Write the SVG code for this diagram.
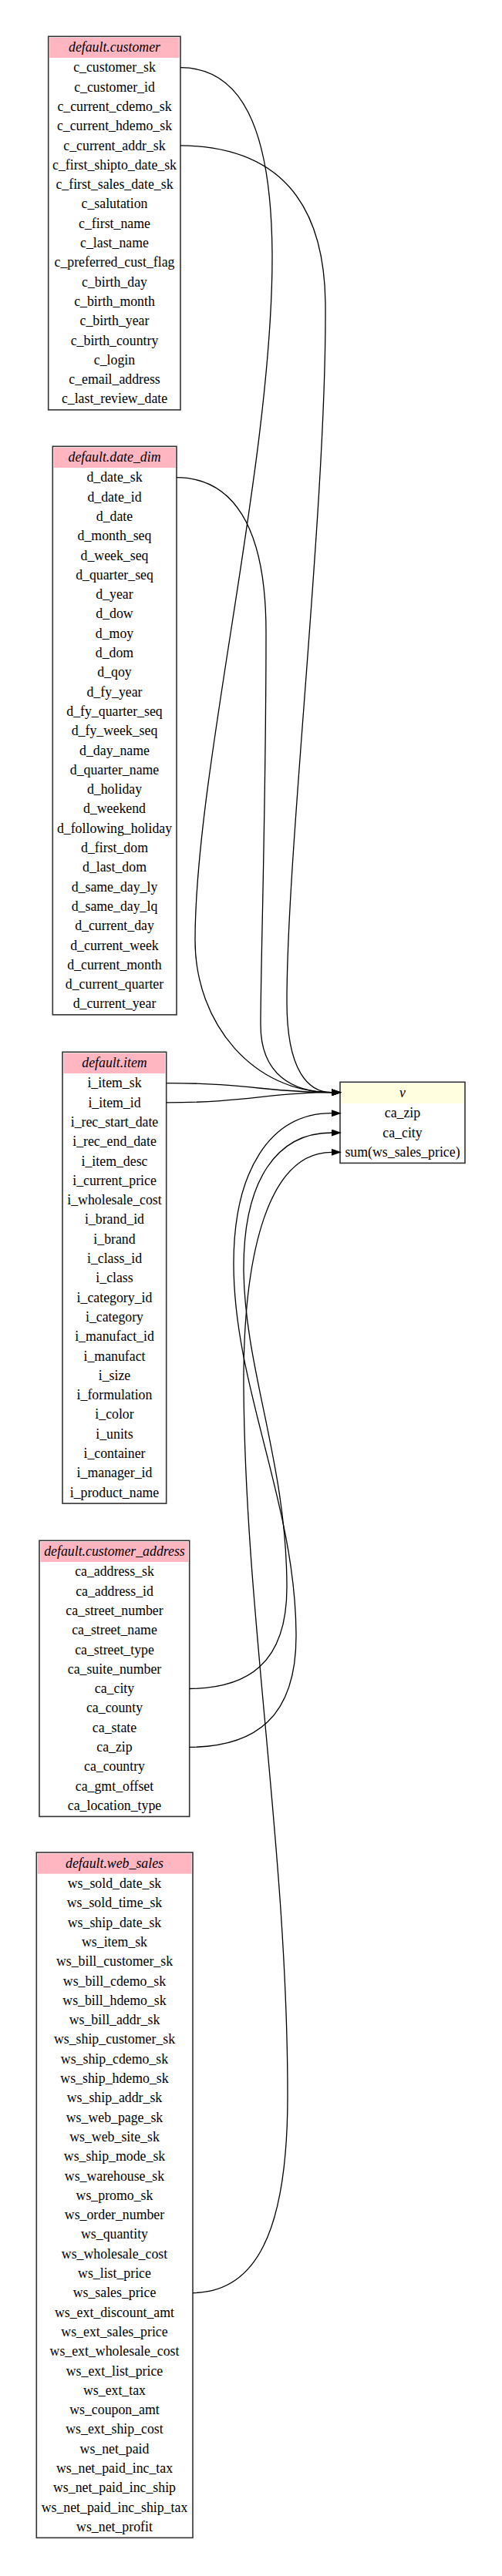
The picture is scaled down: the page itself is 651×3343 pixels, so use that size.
<svg xmlns="http://www.w3.org/2000/svg" width="651" height="3343" viewBox="0 0 651 3343">
<style>
.box{fill:#fff;stroke:#333;stroke-width:1.6}
.hd{fill:#ffb6c1}
.hdv{fill:#ffffe0}
text{font-family:"Liberation Serif","Times New Roman",serif;font-size:17.8px;fill:#000;text-anchor:middle}
.ti{font-style:italic}
.e{fill:none;stroke:#000;stroke-width:1.3;marker-end:url(#ah)}
</style>
<defs>
<marker id="ah" viewBox="0 0 13 9" refX="0" refY="4.5" markerWidth="13" markerHeight="9" markerUnits="userSpaceOnUse" orient="auto">
<path d="M0,0 L13,4.5 L0,9 Z" fill="#000"/>
</marker>
</defs>
<rect width="651" height="3343" fill="#fff"/>

<g id="customer" transform="translate(0,47.3)">
<rect class="box" x="62.7" y="0" width="171.3" height="484.6"/>
<rect class="hd" x="64.2" y="1.5" width="168.3" height="26.2"/>
<text class="ti" x="148.5" y="19.5">default.customer</text>
<text x="148.5" y="46.05">c_customer_sk</text>
<text x="148.5" y="71.35">c_customer_id</text>
<text x="148.5" y="96.65">c_current_cdemo_sk</text>
<text x="148.5" y="121.95">c_current_hdemo_sk</text>
<text x="148.5" y="147.25">c_current_addr_sk</text>
<text x="148.5" y="172.55">c_first_shipto_date_sk</text>
<text x="148.5" y="197.85">c_first_sales_date_sk</text>
<text x="148.5" y="223.15">c_salutation</text>
<text x="148.5" y="248.45">c_first_name</text>
<text x="148.5" y="273.75">c_last_name</text>
<text x="148.5" y="299.05">c_preferred_cust_flag</text>
<text x="148.5" y="324.35">c_birth_day</text>
<text x="148.5" y="349.65">c_birth_month</text>
<text x="148.5" y="374.95">c_birth_year</text>
<text x="148.5" y="400.25">c_birth_country</text>
<text x="148.5" y="425.55">c_login</text>
<text x="148.5" y="450.85">c_email_address</text>
<text x="148.5" y="476.15">c_last_review_date</text>
</g>

<g id="date_dim" transform="translate(0,579.3)">
<rect class="box" x="68.3" y="0" width="160.7" height="737.6"/>
<rect class="hd" x="69.8" y="1.5" width="157.7" height="26.2"/>
<text class="ti" x="148.5" y="19.5">default.date_dim</text>
<text x="148.5" y="46.05">d_date_sk</text>
<text x="148.5" y="71.35">d_date_id</text>
<text x="148.5" y="96.65">d_date</text>
<text x="148.5" y="121.95">d_month_seq</text>
<text x="148.5" y="147.25">d_week_seq</text>
<text x="148.5" y="172.55">d_quarter_seq</text>
<text x="148.5" y="197.85">d_year</text>
<text x="148.5" y="223.15">d_dow</text>
<text x="148.5" y="248.45">d_moy</text>
<text x="148.5" y="273.75">d_dom</text>
<text x="148.5" y="299.05">d_qoy</text>
<text x="148.5" y="324.35">d_fy_year</text>
<text x="148.5" y="349.65">d_fy_quarter_seq</text>
<text x="148.5" y="374.95">d_fy_week_seq</text>
<text x="148.5" y="400.25">d_day_name</text>
<text x="148.5" y="425.55">d_quarter_name</text>
<text x="148.5" y="450.85">d_holiday</text>
<text x="148.5" y="476.15">d_weekend</text>
<text x="148.5" y="501.45">d_following_holiday</text>
<text x="148.5" y="526.75">d_first_dom</text>
<text x="148.5" y="552.05">d_last_dom</text>
<text x="148.5" y="577.35">d_same_day_ly</text>
<text x="148.5" y="602.65">d_same_day_lq</text>
<text x="148.5" y="627.95">d_current_day</text>
<text x="148.5" y="653.25">d_current_week</text>
<text x="148.5" y="678.55">d_current_month</text>
<text x="148.5" y="703.85">d_current_quarter</text>
<text x="148.5" y="729.15">d_current_year</text>
</g>

<g id="item" transform="translate(0,1365.3)">
<rect class="box" x="81" y="0" width="134.7" height="585.8"/>
<rect class="hd" x="82.5" y="1.5" width="131.7" height="26.2"/>
<text class="ti" x="148.5" y="19.5">default.item</text>
<text x="148.5" y="46.05">i_item_sk</text>
<text x="148.5" y="71.35">i_item_id</text>
<text x="148.5" y="96.65">i_rec_start_date</text>
<text x="148.5" y="121.95">i_rec_end_date</text>
<text x="148.5" y="147.25">i_item_desc</text>
<text x="148.5" y="172.55">i_current_price</text>
<text x="148.5" y="197.85">i_wholesale_cost</text>
<text x="148.5" y="223.15">i_brand_id</text>
<text x="148.5" y="248.45">i_brand</text>
<text x="148.5" y="273.75">i_class_id</text>
<text x="148.5" y="299.05">i_class</text>
<text x="148.5" y="324.35">i_category_id</text>
<text x="148.5" y="349.65">i_category</text>
<text x="148.5" y="374.95">i_manufact_id</text>
<text x="148.5" y="400.25">i_manufact</text>
<text x="148.5" y="425.55">i_size</text>
<text x="148.5" y="450.85">i_formulation</text>
<text x="148.5" y="476.15">i_color</text>
<text x="148.5" y="501.45">i_units</text>
<text x="148.5" y="526.75">i_container</text>
<text x="148.5" y="552.05">i_manager_id</text>
<text x="148.5" y="577.35">i_product_name</text>
</g>

<g id="customer_address" transform="translate(0,1999.3)">
<rect class="box" x="51" y="0" width="194.7" height="358.1"/>
<rect class="hd" x="52.5" y="1.5" width="191.7" height="26.2"/>
<text class="ti" x="148.5" y="19.5">default.customer_address</text>
<text x="148.5" y="46.05">ca_address_sk</text>
<text x="148.5" y="71.35">ca_address_id</text>
<text x="148.5" y="96.65">ca_street_number</text>
<text x="148.5" y="121.95">ca_street_name</text>
<text x="148.5" y="147.25">ca_street_type</text>
<text x="148.5" y="172.55">ca_suite_number</text>
<text x="148.5" y="197.85">ca_city</text>
<text x="148.5" y="223.15">ca_county</text>
<text x="148.5" y="248.45">ca_state</text>
<text x="148.5" y="273.75">ca_zip</text>
<text x="148.5" y="299.05">ca_country</text>
<text x="148.5" y="324.35">ca_gmt_offset</text>
<text x="148.5" y="349.65">ca_location_type</text>
</g>

<g id="web_sales" transform="translate(0,2404)">
<rect class="box" x="47.3" y="0" width="202.7" height="889.4"/>
<rect class="hd" x="48.8" y="1.5" width="199.7" height="26.2"/>
<text class="ti" x="148.5" y="19.5">default.web_sales</text>
<text x="148.5" y="46.05">ws_sold_date_sk</text>
<text x="148.5" y="71.35">ws_sold_time_sk</text>
<text x="148.5" y="96.65">ws_ship_date_sk</text>
<text x="148.5" y="121.95">ws_item_sk</text>
<text x="148.5" y="147.25">ws_bill_customer_sk</text>
<text x="148.5" y="172.55">ws_bill_cdemo_sk</text>
<text x="148.5" y="197.85">ws_bill_hdemo_sk</text>
<text x="148.5" y="223.15">ws_bill_addr_sk</text>
<text x="148.5" y="248.45">ws_ship_customer_sk</text>
<text x="148.5" y="273.75">ws_ship_cdemo_sk</text>
<text x="148.5" y="299.05">ws_ship_hdemo_sk</text>
<text x="148.5" y="324.35">ws_ship_addr_sk</text>
<text x="148.5" y="349.65">ws_web_page_sk</text>
<text x="148.5" y="374.95">ws_web_site_sk</text>
<text x="148.5" y="400.25">ws_ship_mode_sk</text>
<text x="148.5" y="425.55">ws_warehouse_sk</text>
<text x="148.5" y="450.85">ws_promo_sk</text>
<text x="148.5" y="476.15">ws_order_number</text>
<text x="148.5" y="501.45">ws_quantity</text>
<text x="148.5" y="526.75">ws_wholesale_cost</text>
<text x="148.5" y="552.05">ws_list_price</text>
<text x="148.5" y="577.35">ws_sales_price</text>
<text x="148.5" y="602.65">ws_ext_discount_amt</text>
<text x="148.5" y="627.95">ws_ext_sales_price</text>
<text x="148.5" y="653.25">ws_ext_wholesale_cost</text>
<text x="148.5" y="678.55">ws_ext_list_price</text>
<text x="148.5" y="703.85">ws_ext_tax</text>
<text x="148.5" y="729.15">ws_coupon_amt</text>
<text x="148.5" y="754.45">ws_ext_ship_cost</text>
<text x="148.5" y="779.75">ws_net_paid</text>
<text x="148.5" y="805.05">ws_net_paid_inc_tax</text>
<text x="148.5" y="830.35">ws_net_paid_inc_ship</text>
<text x="148.5" y="855.65">ws_net_paid_inc_ship_tax</text>
<text x="148.5" y="880.95">ws_net_profit</text>
</g>

<g id="v" transform="translate(0,1404.3)">
<rect class="box" x="441" y="0" width="162" height="105.1"/>
<rect class="hdv" x="442.5" y="1.5" width="159" height="26.2"/>
<text class="ti" x="522" y="19.5">v</text>
<text x="522" y="46.05">ca_zip</text>
<text x="522" y="71.35">ca_city</text>
<text x="522" y="96.65">sum(ws_sales_price)</text>
</g>

<g id="connectors">
<path class="e" d="M234,87.7 C310,88 352,160 353,330 C354,600 253,1000 253,1220 C253,1330 330,1417.7 430,1417.7"/>
<path class="e" d="M234,188.8 C340,190 420,240 422,393 C424,650 372,1100 372,1300 C372,1390 400,1417.7 430,1417.7"/>
<path class="e" d="M229,619.7 C300,620 345,680 345,820 C345,1050 338,1250 338,1330 C338,1395 380,1417.7 430,1417.7"/>
<path class="e" d="M215.7,1405.6 C320,1405.6 350,1417.7 430,1417.7"/>
<path class="e" d="M215.7,1430.9 C320,1430.9 350,1417.7 430,1417.7"/>
<path class="e" d="M245.7,2267.4 C330,2267 385,2230 384,2120 C383,1950 303,1800 303,1640 C303,1520 350,1444.7 430,1444.7"/>
<path class="e" d="M245.7,2191.5 C320,2191 372,2160 372,2060 C372,1900 318,1780 316,1650 C315,1530 360,1470 430,1470"/>
<path class="e" d="M250,2975.6 C330,2975 373,2900 373,2720 C373,2400 318,2100 316,1800 C315,1620 350,1495.3 430,1495.3"/>
</g>
</svg>
